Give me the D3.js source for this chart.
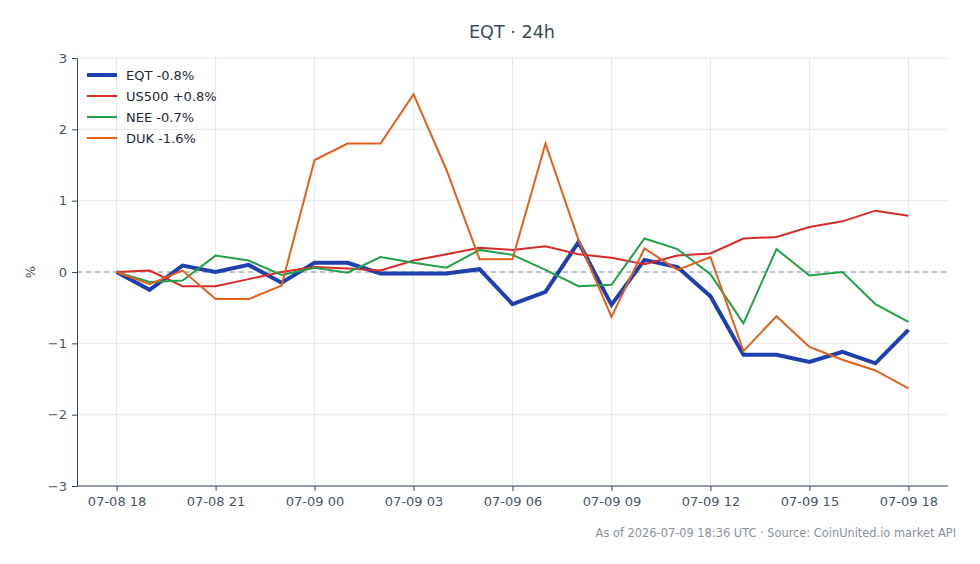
<!doctype html>
<html lang="en">
<head>
  <meta charset="utf-8">
  <title>EQT 24h</title>
  <style>
    body {
      margin: 0;
      background: #fff;
      font-family: "DejaVu Sans", sans-serif;
    }
    .grid line {
      stroke: #e6e9ee;
      stroke-width: 1px;
    }
    .axis path, .axis line {
      stroke: #3b4656;
    }
    .axis text {
      fill: #4a5568;
      font-size: 13px;
      font-family: "DejaVu Sans", sans-serif;
    }
  </style>
</head>
<body>
  <div id="chart"></div>
  <script src="https://d3js.org/d3.v7.min.js"></script>
  <script>
    // hourly points, 07-08 18:00 to 07-09 18:00 UTC
    var startHour = Date.UTC(2026, 6, 8, 18)
    var hours = d3.range(25).map(function(i) { return new Date(startHour + i * 3600000) })

    var seriesNames = ["EQT -0.8%", "US500 +0.8%", "NEE -0.7%", "DUK -1.6%"]
    var seriesColors = ["#1e40af", "#d62b2b", "#22a04a", "#e4601a"]
    var seriesWidths = [4, 2, 2, 2]

    var eqt = [0, -0.25, 0.09, 0.0, 0.1, -0.15, 0.13, 0.13, -0.02, -0.02, -0.02, 0.04,
      -0.45, -0.28, 0.42, -0.46, 0.17, 0.07, -0.34, -1.16, -1.16, -1.26, -1.12, -1.28, -0.81]
    var us500 = [0, 0.02, -0.2, -0.2, -0.1, 0.0, 0.07, 0.05, 0.02, 0.16, 0.25, 0.34,
      0.31, 0.36, 0.25, 0.2, 0.11, 0.23, 0.26, 0.47, 0.49, 0.63, 0.71, 0.86, 0.79]
    var nee = [0, -0.14, -0.12, 0.23, 0.16, -0.04, 0.06, -0.01, 0.21, 0.13, 0.06, 0.31,
      0.24, 0.03, -0.2, -0.18, 0.47, 0.32, -0.03, -0.72, 0.32, -0.05, 0.0, -0.45, -0.7]
    var duk = [0, -0.17, 0.02, -0.38, -0.38, -0.19, 1.57, 1.8, 1.8, 2.49, 1.43, 0.18,
      0.18, 1.8, 0.45, -0.63, 0.33, 0.03, 0.21, -1.11, -0.62, -1.05, -1.23, -1.38, -1.63]
    var seriesValues = [eqt, us500, nee, duk]

    var yTicks = [-3, -2, -1, 0, 1, 2, 3]

    var width = 980, height = 564
    var margin = {top: 58, right: 32, bottom: 78, left: 77}

    var svg = d3.select("#chart").append("svg")
      .attr("width", width)
      .attr("height", height)

    var pad = 1.2 * 3600000
    var x = d3.scaleUtc()
      .domain([new Date(+hours[0] - pad), new Date(+hours[24] + pad)])
      .range([margin.left, width - margin.right])
    var y = d3.scaleLinear()
      .domain([-3, 3])
      .range([height - margin.bottom, margin.top])

    var xTicks = hours.filter(function(d, i) { return i % 3 === 0 })
    var fmt = d3.utcFormat("%m-%d %H")

    // grid
    var grid = svg.append("g").attr("class", "grid")
    grid.selectAll(".gx").data(xTicks).enter().append("line")
      .attr("x1", function(d) { return x(d) }).attr("x2", function(d) { return x(d) })
      .attr("y1", y(3)).attr("y2", y(-3))
    grid.selectAll(".gy").data(yTicks).enter().append("line")
      .attr("x1", margin.left).attr("x2", width - margin.right)
      .attr("y1", function(d) { return y(d) }).attr("y2", function(d) { return y(d) })

    // zero line
    svg.append("line")
      .attr("x1", margin.left).attr("x2", width - margin.right)
      .attr("y1", y(0)).attr("y2", y(0))
      .attr("stroke", "#8796aa")
      .attr("stroke-width", 1)
      .attr("stroke-dasharray", "5,4")

    // axes
    svg.append("g").attr("class", "axis")
      .attr("transform", "translate(0," + (height - margin.bottom) + ")")
      .call(d3.axisBottom(x).tickValues(xTicks).tickFormat(fmt).tickSizeInner(5).tickSizeOuter(0).tickPadding(6))
      .call(function(g) { g.select(".domain").attr("d", "M" + margin.left + ",0H" + (width - margin.right)) })

    svg.append("g").attr("class", "axis")
      .attr("transform", "translate(" + margin.left + ",0)")
      .call(d3.axisLeft(y).tickValues(yTicks).tickFormat(d3.format("d")).tickSizeInner(5).tickSizeOuter(0).tickPadding(5))
      .call(function(g) { g.selectAll("text").text(function(d) { return d < 0 ? "\u2212" + Math.abs(d) : d }) })

    // y label
    svg.append("text")
      .attr("transform", "translate(35," + y(0) + ") rotate(-90)")
      .attr("text-anchor", "middle")
      .attr("fill", "#4a5568")
      .style("font-size", "13px")
      .text("%")

    // lines
    var line = d3.line()
      .x(function(d, i) { return x(hours[i]) })
      .y(function(d) { return y(d) })

    svg.selectAll(".series").data(seriesValues).enter().append("path")
      .attr("class", "series")
      .attr("d", line)
      .attr("fill", "none")
      .attr("stroke", function(d, i) { return seriesColors[i] })
      .attr("stroke-width", function(d, i) { return seriesWidths[i] })
      .attr("stroke-linejoin", "miter")

    // legend
    var legend = svg.append("g").attr("transform", "translate(87,75)")
    var items = legend.selectAll("g").data(seriesNames).enter().append("g")
      .attr("transform", function(d, i) { return "translate(0," + (i * 21) + ")" })
    items.append("line")
      .attr("x1", 0).attr("x2", 30)
      .attr("stroke", function(d, i) { return seriesColors[i] })
      .attr("stroke-width", function(d, i) { return seriesWidths[i] })
    items.append("text")
      .attr("x", 39).attr("dy", "0.35em")
      .attr("fill", "#1f2937")
      .style("font-size", "13px")
      .text(function(d) { return d })

    // title
    svg.append("text")
      .attr("x", 512)
      .attr("y", 37.5)
      .attr("text-anchor", "middle")
      .attr("fill", "#3d4a5c")
      .style("font-size", "17.6px")
      .text("EQT \u00b7 24h")

    // footnote
    svg.append("text")
      .attr("x", 956)
      .attr("y", 537)
      .attr("text-anchor", "end")
      .attr("fill", "#8a919c")
      .style("font-size", "11.4px")
      .text("As of 2026-07-09 18:36 UTC \u00b7 Source: CoinUnited.io market API")
  </script>
</body>
</html>
